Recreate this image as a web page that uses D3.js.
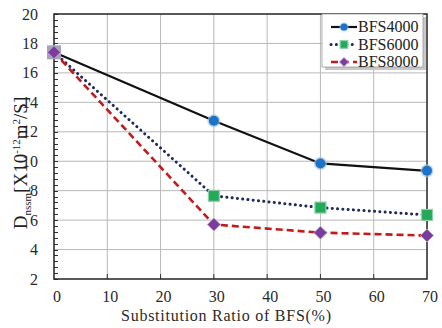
<!doctype html>
<html lang="en">
<head>
<meta charset="utf-8">
<title>Dnssm vs substitution ratio</title>
<style>
	body { margin: 0; background: #fff; }
</style>
</head>
<body>
<svg id="chart" width="442" height="328"></svg>
<script src="https://cdn.jsdelivr.net/npm/d3@7/dist/d3.min.js"></script>
<script>
	// values
	var ratios = [0, 30, 50, 70];
	var seriesNames = ["BFS4000", "BFS6000", "BFS8000"];
	var bfs4000 = [17.4, 12.75, 9.85, 9.35];
	var bfs6000 = [17.4, 7.65, 6.85, 6.35];
	var bfs8000 = [17.4, 5.7, 5.15, 4.95];
	var xTicks = [0, 10, 20, 30, 40, 50, 60, 70];
	var yTicks = [2, 4, 6, 8, 10, 12, 14, 16, 18, 20];

	(function () {
		"use strict";

		var FONT = "Liberation Serif";
		var svg = d3.select("#chart");
		var m = { left: 54, right: 427, top: 14, bottom: 279 };

		var x = d3.scaleLinear([0, 70], [m.left, m.right]);
		var y = d3.scaleLinear([2, 20], [m.bottom, m.top]);

		// the serif face only comes out at 16px here, so every label uses that size
		function label(g, tx, ty, anchor, str) {
			return g.append("text")
				.attr("font-family", FONT).attr("font-size", 16)
				.attr("x", tx).attr("y", ty)
				.attr("text-anchor", anchor).attr("fill", "#2a2a2a")
				.text(str);
		}

		// grid
		var grid = svg.append("g").attr("stroke", "#b8b8b8").attr("stroke-width", 1);
		grid.selectAll(".gx").data(xTicks.slice(1, -1)).join("line")
			.attr("x1", d => x(d)).attr("x2", d => x(d))
			.attr("y1", m.top).attr("y2", m.bottom);
		grid.selectAll(".gy").data(yTicks.slice(1, -1)).join("line")
			.attr("x1", m.left).attr("x2", m.right)
			.attr("y1", d => y(d)).attr("y2", d => y(d));

		// minor ticks on y (inside)
		var minor = d3.range(2, 20.01, 0.4);
		svg.append("g").attr("stroke", "#333").attr("stroke-width", 1)
			.selectAll("line").data(minor).join("line")
			.attr("x1", m.left).attr("x2", m.left + 4)
			.attr("y1", d => Math.round(y(d)) + 0.5).attr("y2", d => Math.round(y(d)) + 0.5);
		svg.append("g").attr("stroke", "#333").attr("stroke-width", 1)
			.selectAll("line").data(xTicks.slice(1, -1)).join("line")
			.attr("x1", d => x(d)).attr("x2", d => x(d))
			.attr("y1", m.bottom).attr("y2", m.bottom - 5);

		// frame
		svg.append("rect")
			.attr("x", m.left).attr("y", m.top)
			.attr("width", m.right - m.left).attr("height", m.bottom - m.top)
			.attr("fill", "none").attr("stroke", "#222").attr("stroke-width", 1.5);

		// tick labels
		var gy = svg.append("g");
		yTicks.forEach(function (d) { label(gy, 38, y(d) + 5.5, "end", d); });
		var gx = svg.append("g");
		xTicks.forEach(function (d) { label(gx, x(d) + 3, 302, "middle", d); });

		// axis titles
		label(svg, 226, 321, "middle", "Substitution Ratio of BFS(%)")
			.attr("textLength", 210).attr("lengthAdjust", "spacing");

		var yt = svg.append("text")
			.attr("font-family", FONT)
			.attr("transform", "translate(27,163) rotate(-90)")
			.attr("text-anchor", "middle").attr("font-size", 19).attr("fill", "#222");
		yt.append("tspan").text("D");
		yt.append("tspan").attr("font-size", 11).attr("dy", 4).text("nssm");
		yt.append("tspan").attr("dy", -4).text("[X10");
		yt.append("tspan").attr("font-size", 11).attr("dy", -7).text("-12");
		yt.append("tspan").attr("dy", 7).text("m");
		yt.append("tspan").attr("font-size", 11).attr("dy", -7).text("2");
		yt.append("tspan").attr("dy", 7).text("/S]");

		var styles = [
			{ values: bfs4000, stroke: "#111", width: 2.2, dash: null, cap: "butt", marker: "circle", fill: "#1e73c6" },
			{ values: bfs6000, stroke: "#1c2a5e", width: 3, dash: "0.1,5.2", cap: "round", marker: "square", fill: "#23a95a" },
			{ values: bfs8000, stroke: "#c41a1a", width: 2.6, dash: "7,4", cap: "butt", marker: "diamond", fill: "#7b3c9e" }
		];

		var line = d3.line().x((d, i) => x(ratios[i])).y(d => y(d));

		function drawMarker(g, type, cx, cy, fill, scale) {
			scale = scale || 1;
			if (type === "circle") {
				g.append("circle").attr("cx", cx).attr("cy", cy).attr("r", 6.5 * scale)
					.attr("fill", "#9ec3e6").attr("opacity", 0.7);
				g.append("circle").attr("cx", cx).attr("cy", cy).attr("r", 5 * scale).attr("fill", fill);
			} else if (type === "square") {
				var s = 11 * scale;
				g.append("rect").attr("x", cx - s / 2).attr("y", cy - s / 2).attr("width", s).attr("height", s)
					.attr("fill", fill).attr("stroke", "#8fd0a8").attr("stroke-width", 1.2);
			} else {
				var r = 6.5 * scale;
				g.append("path")
					.attr("d", "M" + cx + "," + (cy - r) + "L" + (cx + r) + "," + cy + "L" + cx + "," + (cy + r) + "L" + (cx - r) + "," + cy + "Z")
					.attr("fill", fill).attr("stroke", "#b79fcc").attr("stroke-width", 1);
			}
		}

		styles.forEach(function (s) {
			svg.append("path").datum(s.values)
				.attr("d", line)
				.attr("fill", "none")
				.attr("stroke", s.stroke)
				.attr("stroke-width", s.width)
				.attr("stroke-linecap", s.cap)
				.attr("stroke-dasharray", s.dash);
		});
		styles.forEach(function (s) {
			var g = svg.append("g");
			s.values.forEach(function (v, i) {
				if (i === 0 && s.marker === "square") {
					// grey square behind the diamond at 0
					g.append("rect").attr("x", x(0) - 7).attr("y", y(v) - 7).attr("width", 14).attr("height", 14)
						.attr("fill", "#a9a3b8");
					return;
				}
				drawMarker(g, s.marker, x(ratios[i]), y(v), s.fill);
			});
		});

		// legend
		var lg = svg.append("g");
		lg.append("rect").attr("x", 325).attr("y", 17).attr("width", 101).attr("height", 53).attr("fill", "#c8c8c8");
		lg.append("rect").attr("x", 322).attr("y", 14).attr("width", 101).attr("height", 53)
			.attr("fill", "#fff").attr("stroke", "#999").attr("stroke-width", 0.8);
		styles.forEach(function (s, i) {
			var ly = 27 + i * 17.5;
			lg.append("line").attr("x1", 331).attr("x2", 357).attr("y1", ly).attr("y2", ly)
				.attr("stroke", s.stroke).attr("stroke-width", s.width)
				.attr("stroke-linecap", s.cap).attr("stroke-dasharray", s.dash);
			drawMarker(lg, s.marker, 344, ly, s.fill, 0.7);
			label(lg, 358, ly + 5, "start", seriesNames[i]).attr("fill", "#222");
		});
	})();
</script>
</body>
</html>
